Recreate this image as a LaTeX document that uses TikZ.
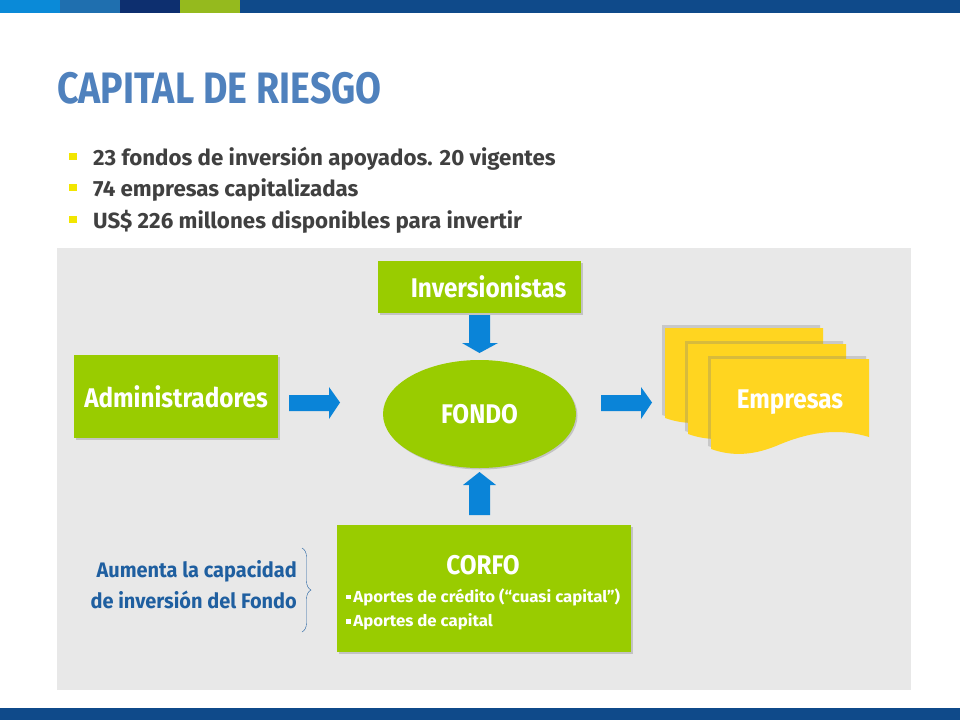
\documentclass[tikz,border=0pt]{standalone}
\usepackage{fontspec}
\setmainfont{Fira Sans}[FakeStretch=0.9]
\newfontfamily\titlefont{Fira Sans}[FakeStretch=0.854]
\newfontfamily\bulletfont{Fira Sans}[FakeStretch=1.015]
\newfontfamily\boxfont{Fira Sans}[FakeStretch=0.9]
\newfontfamily\smallfont{Fira Sans}[FakeStretch=1.05]
\newfontfamily\notefont{Fira Sans}[FakeStretch=0.95]
\usetikzlibrary{shapes.geometric,shadows,arrows.meta,decorations.pathreplacing}
\definecolor{barA}{HTML}{0A8AD8}
\definecolor{barB}{HTML}{1F6FAF}
\definecolor{barC}{HTML}{0D2F6F}
\definecolor{barD}{HTML}{95BA1E}
\definecolor{navy}{HTML}{0F4A8A}
\definecolor{titleblue}{HTML}{4F81BD}
\definecolor{panel}{HTML}{E8E8E8}
\definecolor{lime}{HTML}{99CC00}
\definecolor{gold}{HTML}{FFD520}
\definecolor{arrowblue}{HTML}{0A84D8}
\definecolor{txtgray}{HTML}{404040}
\definecolor{bullety}{HTML}{F2E600}
\definecolor{notblue}{HTML}{1F5FA0}
\tikzset{
  greenbox/.style={fill=lime, draw=none, drop shadow={shadow xshift=1.5pt, shadow yshift=-1.5pt, opacity=0.35}, text=white, font=\boxfont\fontsize{27}{30}\selectfont\bfseries},
  fatarrow/.style={fill=arrowblue, draw=none},
  doc/.style={fill=gold, draw=none, drop shadow={shadow xshift=-3pt, shadow yshift=3pt, opacity=0.3}},
  bigtext/.style={text=white, inner sep=0, font=\boxfont\fontsize{27}{30}\selectfont\bfseries},
  corfoline/.style={anchor=west, text=white, inner sep=0, font=\smallfont\fontsize{16}{18}\selectfont\bfseries},
}
\begin{document}
\begin{tikzpicture}[x=1pt,y=-1pt]
\useasboundingbox (0,0) rectangle (960,720);
\fill[white] (0,0) rectangle (960,720);
% top bar
\fill[barA] (0,0) rectangle (60,13);
\fill[barB] (60,0) rectangle (120,13);
\fill[barC] (120,0) rectangle (180,13);
\fill[barD] (180,0) rectangle (240,13);
\fill[navy] (240,0) rectangle (960,13);
% bottom bar
\fill[navy] (0,708) rectangle (960,720);
% title
\node[anchor=base west, inner sep=0, text=titleblue, font=\titlefont\fontsize{44}{48}\selectfont\bfseries] (title) at (57,103) {CAPITAL DE RIESGO};
% bullets
\foreach \yy/\t [count=\i] in {158/{23 fondos de inversión apoyados. 20 vigentes},189/{74 empresas capitalizadas},221/{US\$ 226 millones disponibles para invertir}}{
  \fill[bullety] (69,\yy-5) rectangle (77,\yy+2);
  \node[anchor=base west, inner sep=0, text=txtgray, font=\bulletfont\fontsize{22}{24}\selectfont\bfseries] (b\i) at (93,\yy+7) {\t};
}
% panel
\fill[panel] (57,248) rectangle (911,690);
% boxes
\node[greenbox, minimum width=203pt, minimum height=52pt] (inv) at (479.5,287) {\hspace{18pt}Inversionistas};
\node[greenbox, minimum width=204pt, minimum height=83pt] (adm) at (176,396.5) {Administradores};
\node[greenbox, ellipse, minimum width=193pt, minimum height=108pt] (fondo) at (479.5,414) {FONDO};
\node[greenbox, minimum width=294pt, minimum height=127pt] (corfo) at (484,588.5) {};
\node[bigtext] (corfot) at (483,565) {CORFO};
\node[corfoline] (c1) at (346,597) {\raisebox{3pt}{\rule{4.5pt}{4.5pt}}\,Aportes de crédito (“cuasi capital”)};
\node[corfoline] (c2) at (346,622) {\raisebox{3pt}{\rule{4.5pt}{4.5pt}}\,Aportes de capital};
% arrows
\fill[fatarrow] (289,395) -- (329,395) -- (329,387) -- (340,402.5) -- (329,419) -- (329,411) -- (289,411) -- cycle;
\fill[fatarrow] (601,395) -- (641,395) -- (641,387) -- (652,402.5) -- (641,419) -- (641,411) -- (601,411) -- cycle;
\fill[fatarrow] (469,315) -- (490,315) -- (490,343) -- (498,343) -- (479.5,353) -- (462,343) -- (469,343) -- cycle;
\fill[fatarrow] (469,515) -- (490,515) -- (490,485) -- (496,485) -- (479.5,472) -- (463,485) -- (469,485) -- cycle;
% documents
\foreach \dx/\dy in {0/0,23/16,46/31}{
  \fill[doc] (665+\dx,328+\dy) -- (823+\dx,328+\dy) -- (823+\dx,406+\dy)
    .. controls (790+\dx,396+\dy) and (760+\dx,402+\dy) .. (730+\dx,415+\dy)
    .. controls (705+\dx,425+\dy) and (685+\dx,425+\dy) .. (665+\dx,418+\dy) -- cycle;
}
\node[bigtext] (emp) at (790,402) {Empresas};
% note
\node[anchor=east, align=right, text=notblue, font=\notefont\fontsize{21}{31}\selectfont\bfseries, inner sep=0] (note) at (297,585) {Aumenta la capacidad\\de inversión del Fondo};
\draw[notblue, thin, decorate, decoration={brace, amplitude=9pt}] (302,548) -- (302,632);
\end{tikzpicture}
\end{document}
